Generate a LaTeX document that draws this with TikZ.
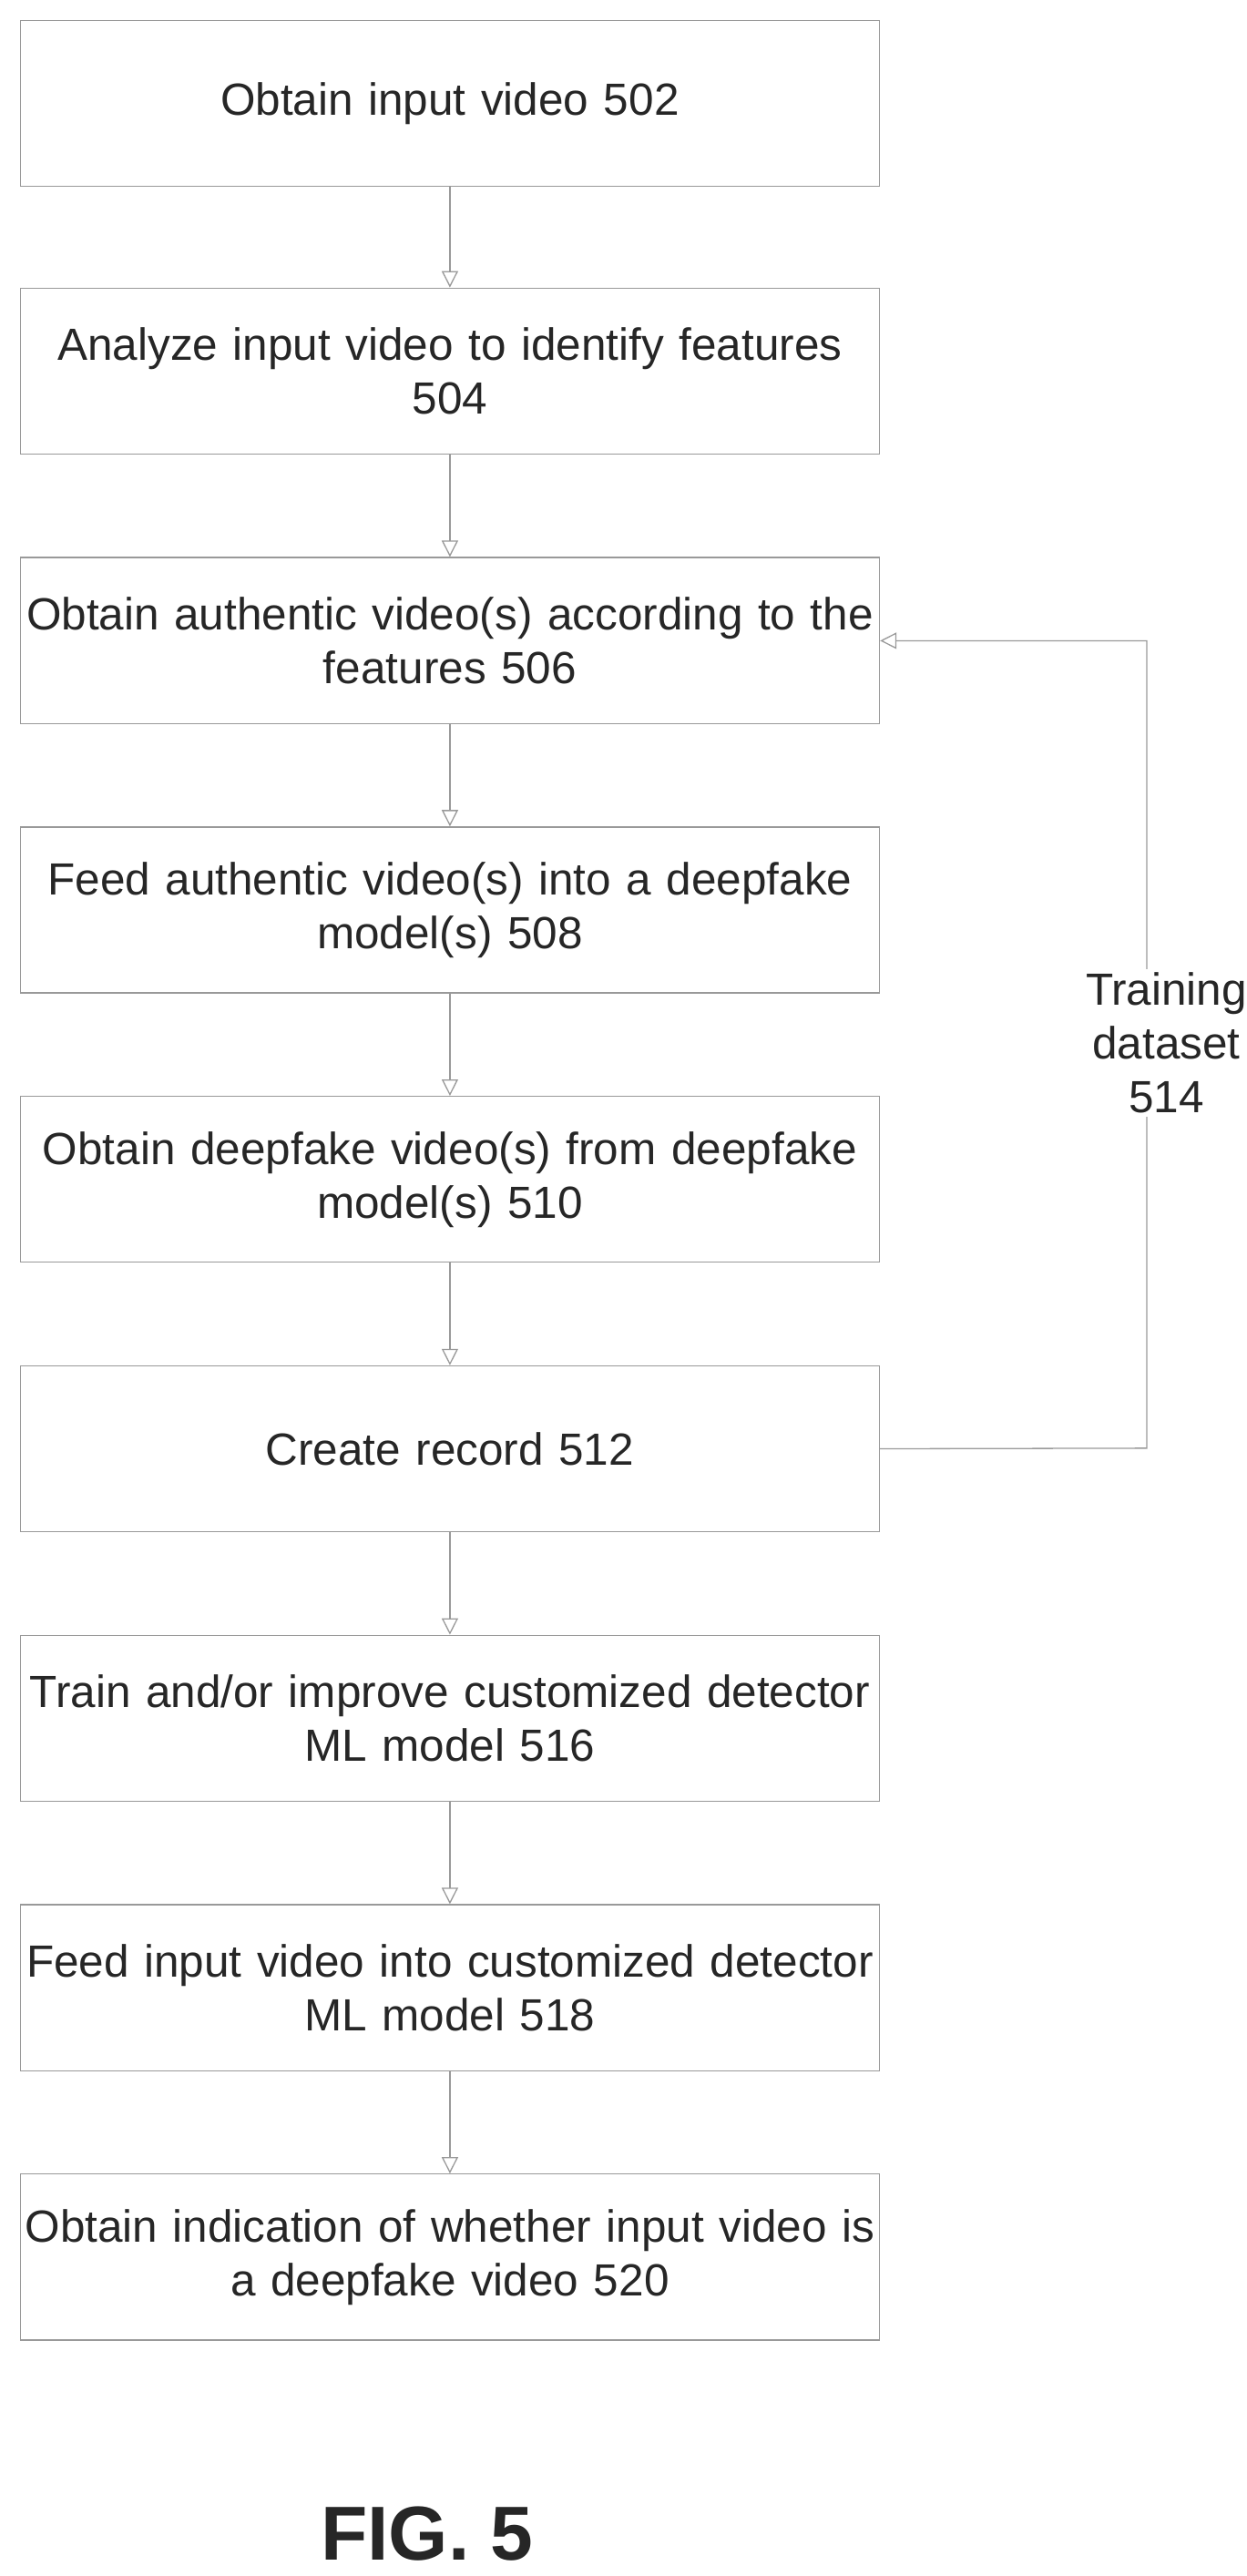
\documentclass[tikz,border=0pt]{standalone}
\usepackage{fontspec}
\setmainfont{Liberation Sans}
\usetikzlibrary{arrows.meta}
\begin{document}
\begin{tikzpicture}[x=1.804pt,y=-1.804pt,
  box/.style={draw=gray!80, line width=1.3pt, minimum width=523*1.804pt, minimum height=101*1.804pt, inner sep=0pt, anchor=north west, align=center, text width=522*1.804pt, font=\fontsize{49.5}{59}\selectfont, text=black!85},
  arr/.style={draw=gray!80, line width=1.3pt, -{Triangle[width=18pt,length=18pt,open]}}]
\useasboundingbox (0,0) rectangle (759,1568);
\node[box] (b1) at (12,12) {Obtain input video 502};
\node[box] (b2) at (12,175) {Analyze input video to identify features\\504};
\node[box] (b3) at (12,339) {Obtain authentic video(s) according to the\\features 506};
\node[box] (b4) at (12,503) {Feed authentic video(s) into a deepfake\\model(s) 508};
\node[box] (b5) at (12,667) {Obtain deepfake video(s) from deepfake\\model(s) 510};
\node[box] (b6) at (12,831) {Create record 512};
\node[box] (b7) at (12,995) {Train and/or improve customized detector\\ML model 516};
\node[box] (b8) at (12,1159) {Feed input video into customized detector\\ML model 518};
\node[box] (b9) at (12,1323) {Obtain indication of whether input video is\\a deepfake video 520};
\foreach \a/\b in {b1/b2,b2/b3,b3/b4,b4/b5,b5/b6,b6/b7,b7/b8,b8/b9}
  \draw[arr] (\a.south) -- (\b.north);
\coordinate (c1) at (698,881.5);
\coordinate (c2) at (698,390);
\draw[arr] (b6.east) -- (c1) -- (c2) -- (b3.east |- c2);
\node[fill=white, align=center, font=\fontsize{49.5}{59}\selectfont, text=black!85, inner sep=4pt] (lbl) at (710,635) {Training\\dataset\\514};
\node[font=\bfseries\fontsize{84}{92}\selectfont, text=black!85] (fig) at (260,1542) {FIG. 5};
\end{tikzpicture}
\end{document}
